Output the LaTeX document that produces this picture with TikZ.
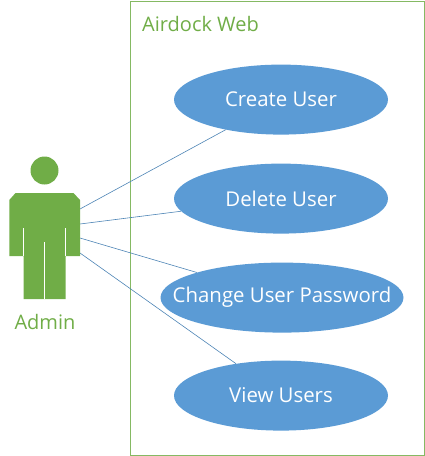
\documentclass[tikz,border=0pt]{standalone}
\usepackage{fontspec}
\setmainfont{Open Sans}
\usetikzlibrary{shapes.geometric}
\definecolor{grn}{HTML}{70AD47}
\definecolor{blu}{HTML}{5B9BD5}
\newcommand{\ucl}[1]{\makebox[0pt][c]{#1}}
\tikzset{
  usecase/.style={ellipse,fill=blu,draw=none,inner sep=0pt,text=white,font=\fontsize{20.4}{24}\selectfont},
  greenlabel/.style={text=grn,inner sep=0pt,font=\fontsize{20}{24}\selectfont},
  conn/.style={draw=blu!85!black,line width=0.6pt},
  gap/.style={draw=white,line width=0.9pt}
}
\begin{document}
\begin{tikzpicture}[x=1pt,y=-1pt]
\useasboundingbox (0,0) rectangle (425,456);
\draw[grn!85!white,line width=0.9pt] (130,1) rectangle (424,455);
\node[greenlabel,anchor=west] (title) at (142,24) {Airdock Web};
\node[usecase,minimum width=214pt,minimum height=70pt] (create) at (281,99.6) {\ucl{Create User}};
\node[usecase,minimum width=214pt,minimum height=70pt] (delete) at (281,198.6) {\ucl{Delete User}};
\node[usecase,minimum width=243pt,minimum height=70pt] (change) at (282,297.6) {\ucl{Change User Password}};
\node[usecase,minimum width=214pt,minimum height=70pt] (view) at (281,395.6) {\ucl{View Users}};
\coordinate (a1) at (80,209);
\coordinate (a2) at (80,224);
\coordinate (a3) at (80,238);
\coordinate (a4) at (80,253);
\draw[conn] (a1) -- (create);
\draw[conn] (a2) -- (delete);
\draw[conn] (a3) -- (change);
\draw[conn] (a4) -- (view);
\fill[grn] (44.5,170.5) circle[radius=14];
\fill[grn] (15.5,193) -- (73.5,193) -- (80,200) -- (80,256) -- (65.7,256) -- (65.7,299) -- (23.7,299) -- (23.7,256) -- (9.3,256) -- (9.3,200) -- cycle;
\draw[gap] (23.6,228) -- (23.6,256);
\draw[gap] (65.8,228) -- (65.8,256);
\draw[gap] (44.5,242) -- (44.5,299);
\node[greenlabel] (admin) at (45,322) {Admin};
\end{tikzpicture}
\end{document}
